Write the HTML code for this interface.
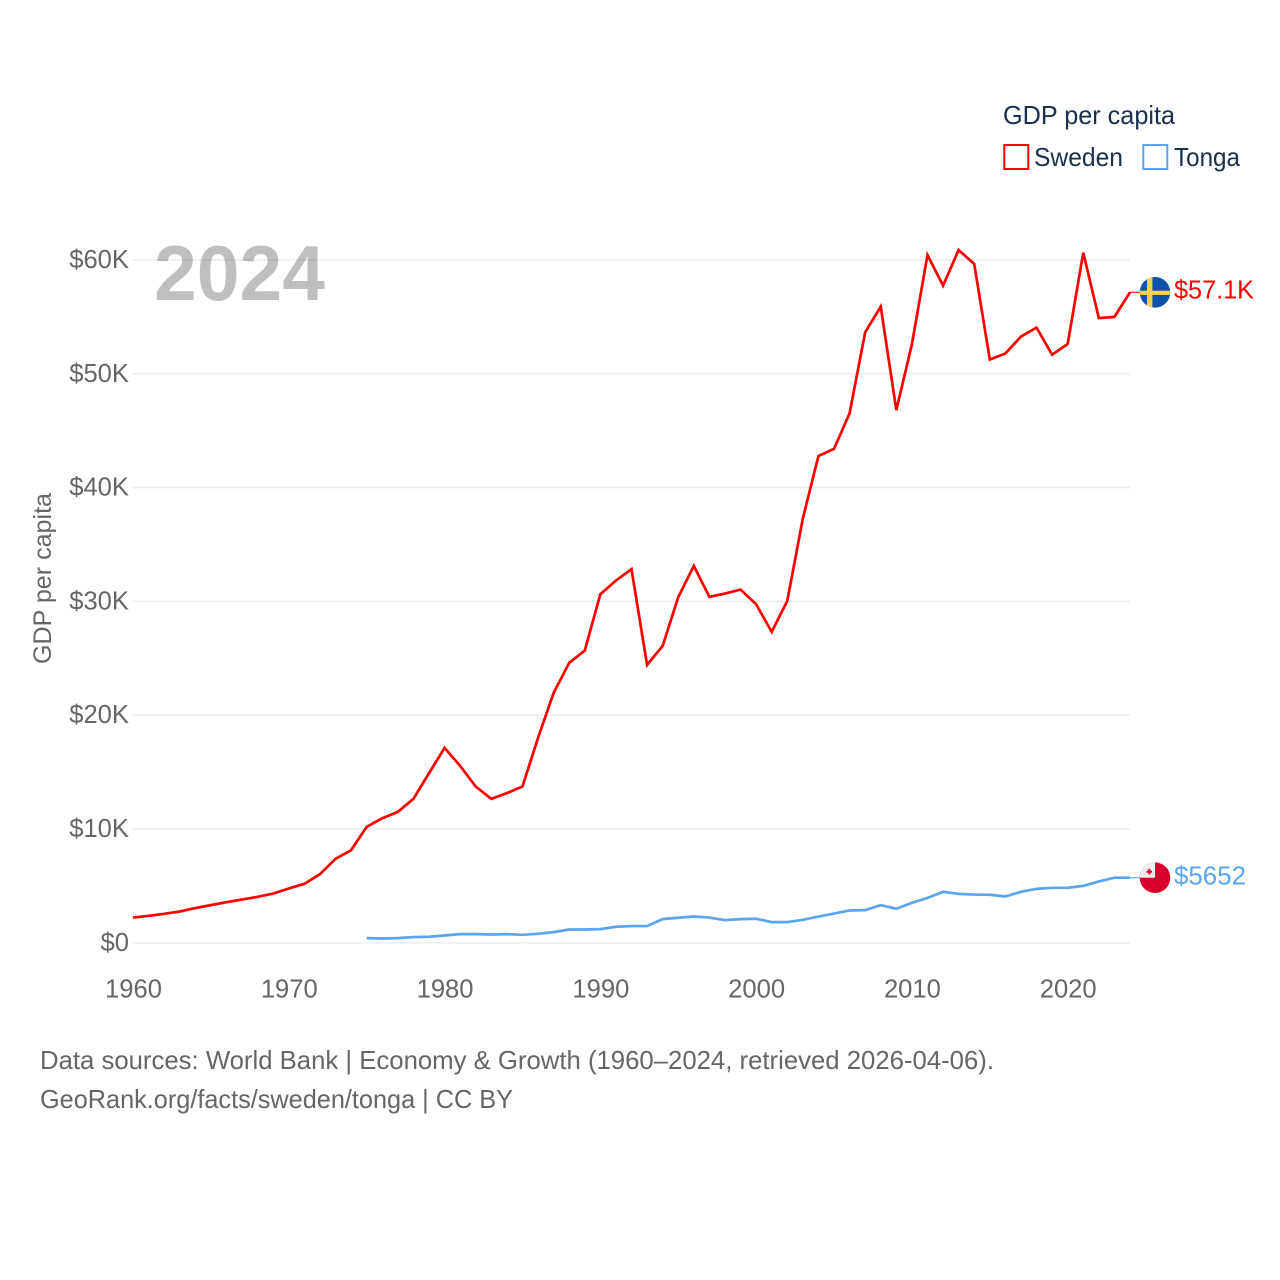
<!DOCTYPE html>
<html lang="en">
<head>
<meta charset="utf-8">
<title>GDP per capita: Sweden and Tonga</title>
<style>
html,body{margin:0;padding:0;background:#fff;}
svg{display:block;}
text{font-family:"Liberation Sans",sans-serif;}
</style>
</head>
<body>
<svg id="chart" xmlns="http://www.w3.org/2000/svg" width="1280" height="1280" viewBox="0 0 1280 1280">
  <defs>
    <clipPath id="clip-sweden"><circle id="clip-sweden-circle" r="15.3"></circle></clipPath>
    <clipPath id="clip-tonga"><circle id="clip-tonga-circle" r="15.3"></circle></clipPath>
  </defs>
  <rect x="0" y="0" width="1280" height="1280" fill="#fff"></rect>
  <g id="grid"></g>
  <g id="y-ticks"></g>
  <g id="x-ticks"></g>
  <text x="154" y="300" font-size="78" font-weight="700" fill="#000" fill-opacity="0.25" textLength="171" lengthAdjust="spacingAndGlyphs">2024</text>
  <text transform="translate(51,664) rotate(-90)" font-size="25" fill="#666" textLength="171" lengthAdjust="spacingAndGlyphs">GDP per capita</text>
  <g id="series"></g>
  <g id="end-markers"></g>

  <g>
    <text x="1003" y="124" font-size="26" fill="#1a2f4d" textLength="172" lengthAdjust="spacingAndGlyphs">GDP per capita</text>
    <g>
      <rect x="1004.3" y="145" width="24" height="24" fill="#fff" stroke="#ff0000" stroke-width="2"></rect>
      <text x="1034" y="166" font-size="26" fill="#1a2f4d" textLength="89" lengthAdjust="spacingAndGlyphs">Sweden</text>
    </g>
    <g>
      <rect x="1143.3" y="145" width="24" height="24" fill="#fff" stroke="#5aa5f0" stroke-width="2"></rect>
      <text x="1174" y="166" font-size="26" fill="#1a2f4d" textLength="66" lengthAdjust="spacingAndGlyphs">Tonga</text>
    </g>
  </g>

  <g>
    <text x="40" y="1069" font-size="26" fill="#666" textLength="954" lengthAdjust="spacingAndGlyphs">Data sources: World Bank | Economy &amp; Growth (1960–2024, retrieved 2026-04-06).</text>
    <text x="40" y="1108" font-size="26" fill="#666" textLength="473" lengthAdjust="spacingAndGlyphs">GeoRank.org/facts/sweden/tonga | CC BY</text>
  </g>
</svg>
<script>
// ----- chart data (values in thousands of US dollars) -----
const years = [1960,1961,1962,1963,1964,1965,1966,1967,1968,1969,1970,1971,1972,1973,1974,1975,1976,1977,1978,1979,1980,1981,1982,1983,1984,1985,1986,1987,1988,1989,1990,1991,1992,1993,1994,1995,1996,1997,1998,1999,2000,2001,2002,2003,2004,2005,2006,2007,2008,2009,2010,2011,2012,2013,2014,2015,2016,2017,2018,2019,2020,2021,2022,2023,2024];
const swedenValues = [2.22,2.37,2.55,2.75,3.05,3.31,3.57,3.8,4.04,4.33,4.77,5.18,6.03,7.38,8.14,10.19,10.95,11.5,12.65,14.9,17.13,15.55,13.73,12.65,13.15,13.73,18.0,21.96,24.6,25.68,30.63,31.83,32.83,24.42,26.09,30.37,33.12,30.4,30.69,31.04,29.75,27.32,30.04,37.3,42.78,43.4,46.53,53.65,55.9,46.8,52.6,60.44,57.75,60.88,59.65,51.25,51.78,53.27,54.06,51.68,52.62,60.64,54.9,55.0,57.16];
const tongaValues = [null,null,null,null,null,null,null,null,null,null,null,null,null,null,null,0.41,0.38,0.41,0.5,0.53,0.64,0.76,0.76,0.73,0.76,0.7,0.79,0.94,1.17,1.17,1.2,1.41,1.47,1.47,2.08,2.2,2.31,2.22,1.99,2.08,2.11,1.82,1.82,2.02,2.31,2.57,2.84,2.87,3.31,2.99,3.51,3.95,4.48,4.3,4.24,4.22,4.07,4.48,4.74,4.83,4.83,5.0,5.39,5.72,5.72];
const yTickValues = [0,10,20,30,40,50,60];
const yTickLabels = ["$0","$10K","$20K","$30K","$40K","$50K","$60K"];
const xTickValues = [1960,1970,1980,1990,2000,2010,2020];
const swedenEndLabel = "$57.1K";
const tongaEndLabel = "$5652";

// ----- axis functions -----
const NS = "http://www.w3.org/2000/svg";
function xScale(year){ return 133 + (year - 1960) * (1130 - 133) / (2024 - 1960); }
function yScale(v){ return 942.8 - v * (942.8 - 260) / 60; }

function make(tag, attrs, parent){
  const el = document.createElementNS(NS, tag);
  for (const k in attrs) el.setAttribute(k, attrs[k]);
  parent.appendChild(el);
  return el;
}

const gridG = document.getElementById("grid");
const yTickG = document.getElementById("y-ticks");
yTickValues.forEach(function(v, i){
  const line = make("line", {x1:133, x2:1130, y1:yScale(v), y2:yScale(v), stroke:"#ebebeb", "stroke-width":1.4}, gridG);
  
  
  const t = make("text", {x:129, y:yScale(v)+8, "font-size":25.6, fill:"#666", "text-anchor":"end"}, yTickG);
  
  
  t.textContent = yTickLabels[i];
});

const xTickG = document.getElementById("x-ticks");
xTickValues.forEach(function(yr){
  const t = make("text", {x:xScale(yr)+0.5, y:997.5, "font-size":25.6, fill:"#666", "text-anchor":"middle"}, xTickG);
  
  
  t.textContent = String(yr);
});

function linePath(vals){
  let d = "";
  vals.forEach(function(v, i){
    if (v === null) return;
    d += (d === "" ? "M" : "L") + xScale(years[i]).toFixed(2) + " " + yScale(v).toFixed(2);
  });
  return d;
}

const seriesG = document.getElementById("series");
const swedenLine = make("path", {d:linePath(swedenValues), fill:"none", stroke:"#ff0000", "stroke-width":2.7, "stroke-linejoin":"miter"}, seriesG);


const tongaLine = make("path", {d:linePath(tongaValues), fill:"none", stroke:"#5aa5f0", "stroke-width":2.7, "stroke-linejoin":"miter"}, seriesG);



// ----- end-of-line markers -----
const markers = document.getElementById("end-markers");
const flagX = 1155;
const sweY = yScale(swedenValues[swedenValues.length - 1]);
const tonY = yScale(tongaValues[tongaValues.length - 1]);

const sweConn = make("line", {x1:1130, x2:flagX - 15, y1:sweY, y2:sweY, stroke:"#ff0000", "stroke-width":1.3, "stroke-opacity":0.85}, markers);


const tonConn = make("line", {x1:1130, x2:flagX - 15, y1:tonY, y2:tonY, stroke:"#5aa5f0", "stroke-width":1.3, "stroke-opacity":0.85}, markers);



document.getElementById("clip-sweden-circle").setAttribute("cx", flagX);
document.getElementById("clip-sweden-circle").setAttribute("cy", sweY);
document.getElementById("clip-tonga-circle").setAttribute("cx", flagX);
document.getElementById("clip-tonga-circle").setAttribute("cy", tonY);

const sweFlag = make("g", {"clip-path":"url(#clip-sweden)"}, markers);


make("rect", {x:flagX-16, y:sweY-16, width:32, height:32, fill:"#0b52a8"}, sweFlag);
make("rect", {x:flagX-8, y:sweY-16, width:5.4, height:32, fill:"#fbcf4d"}, sweFlag);
make("rect", {x:flagX-16, y:sweY-1.6, width:32, height:4.2, fill:"#fbcf4d"}, sweFlag);

const tonFlag = make("g", {"clip-path":"url(#clip-tonga)"}, markers);


make("rect", {x:flagX-16, y:tonY-16, width:32, height:32, fill:"#d9002b"}, tonFlag);
make("rect", {x:flagX-16, y:tonY-16, width:16, height:16, fill:"#eeeeee"}, tonFlag);
make("rect", {x:flagX-8.5, y:tonY-7, width:5.5, height:2, fill:"#d9002b"}, tonFlag);
make("rect", {x:flagX-6.7, y:tonY-8.8, width:2, height:5.5, fill:"#d9002b"}, tonFlag);

const sweLabel = make("text", {x:1174, y:sweY+6, "font-size":26, fill:"#ff0000", textLength:80, lengthAdjust:"spacingAndGlyphs"}, markers);


sweLabel.textContent = swedenEndLabel;
const tonLabel = make("text", {x:1174, y:tonY+7, "font-size":26, fill:"#5aa5f0", textLength:72, lengthAdjust:"spacingAndGlyphs"}, markers);


tonLabel.textContent = tongaEndLabel;
</script>
</body>
</html>
